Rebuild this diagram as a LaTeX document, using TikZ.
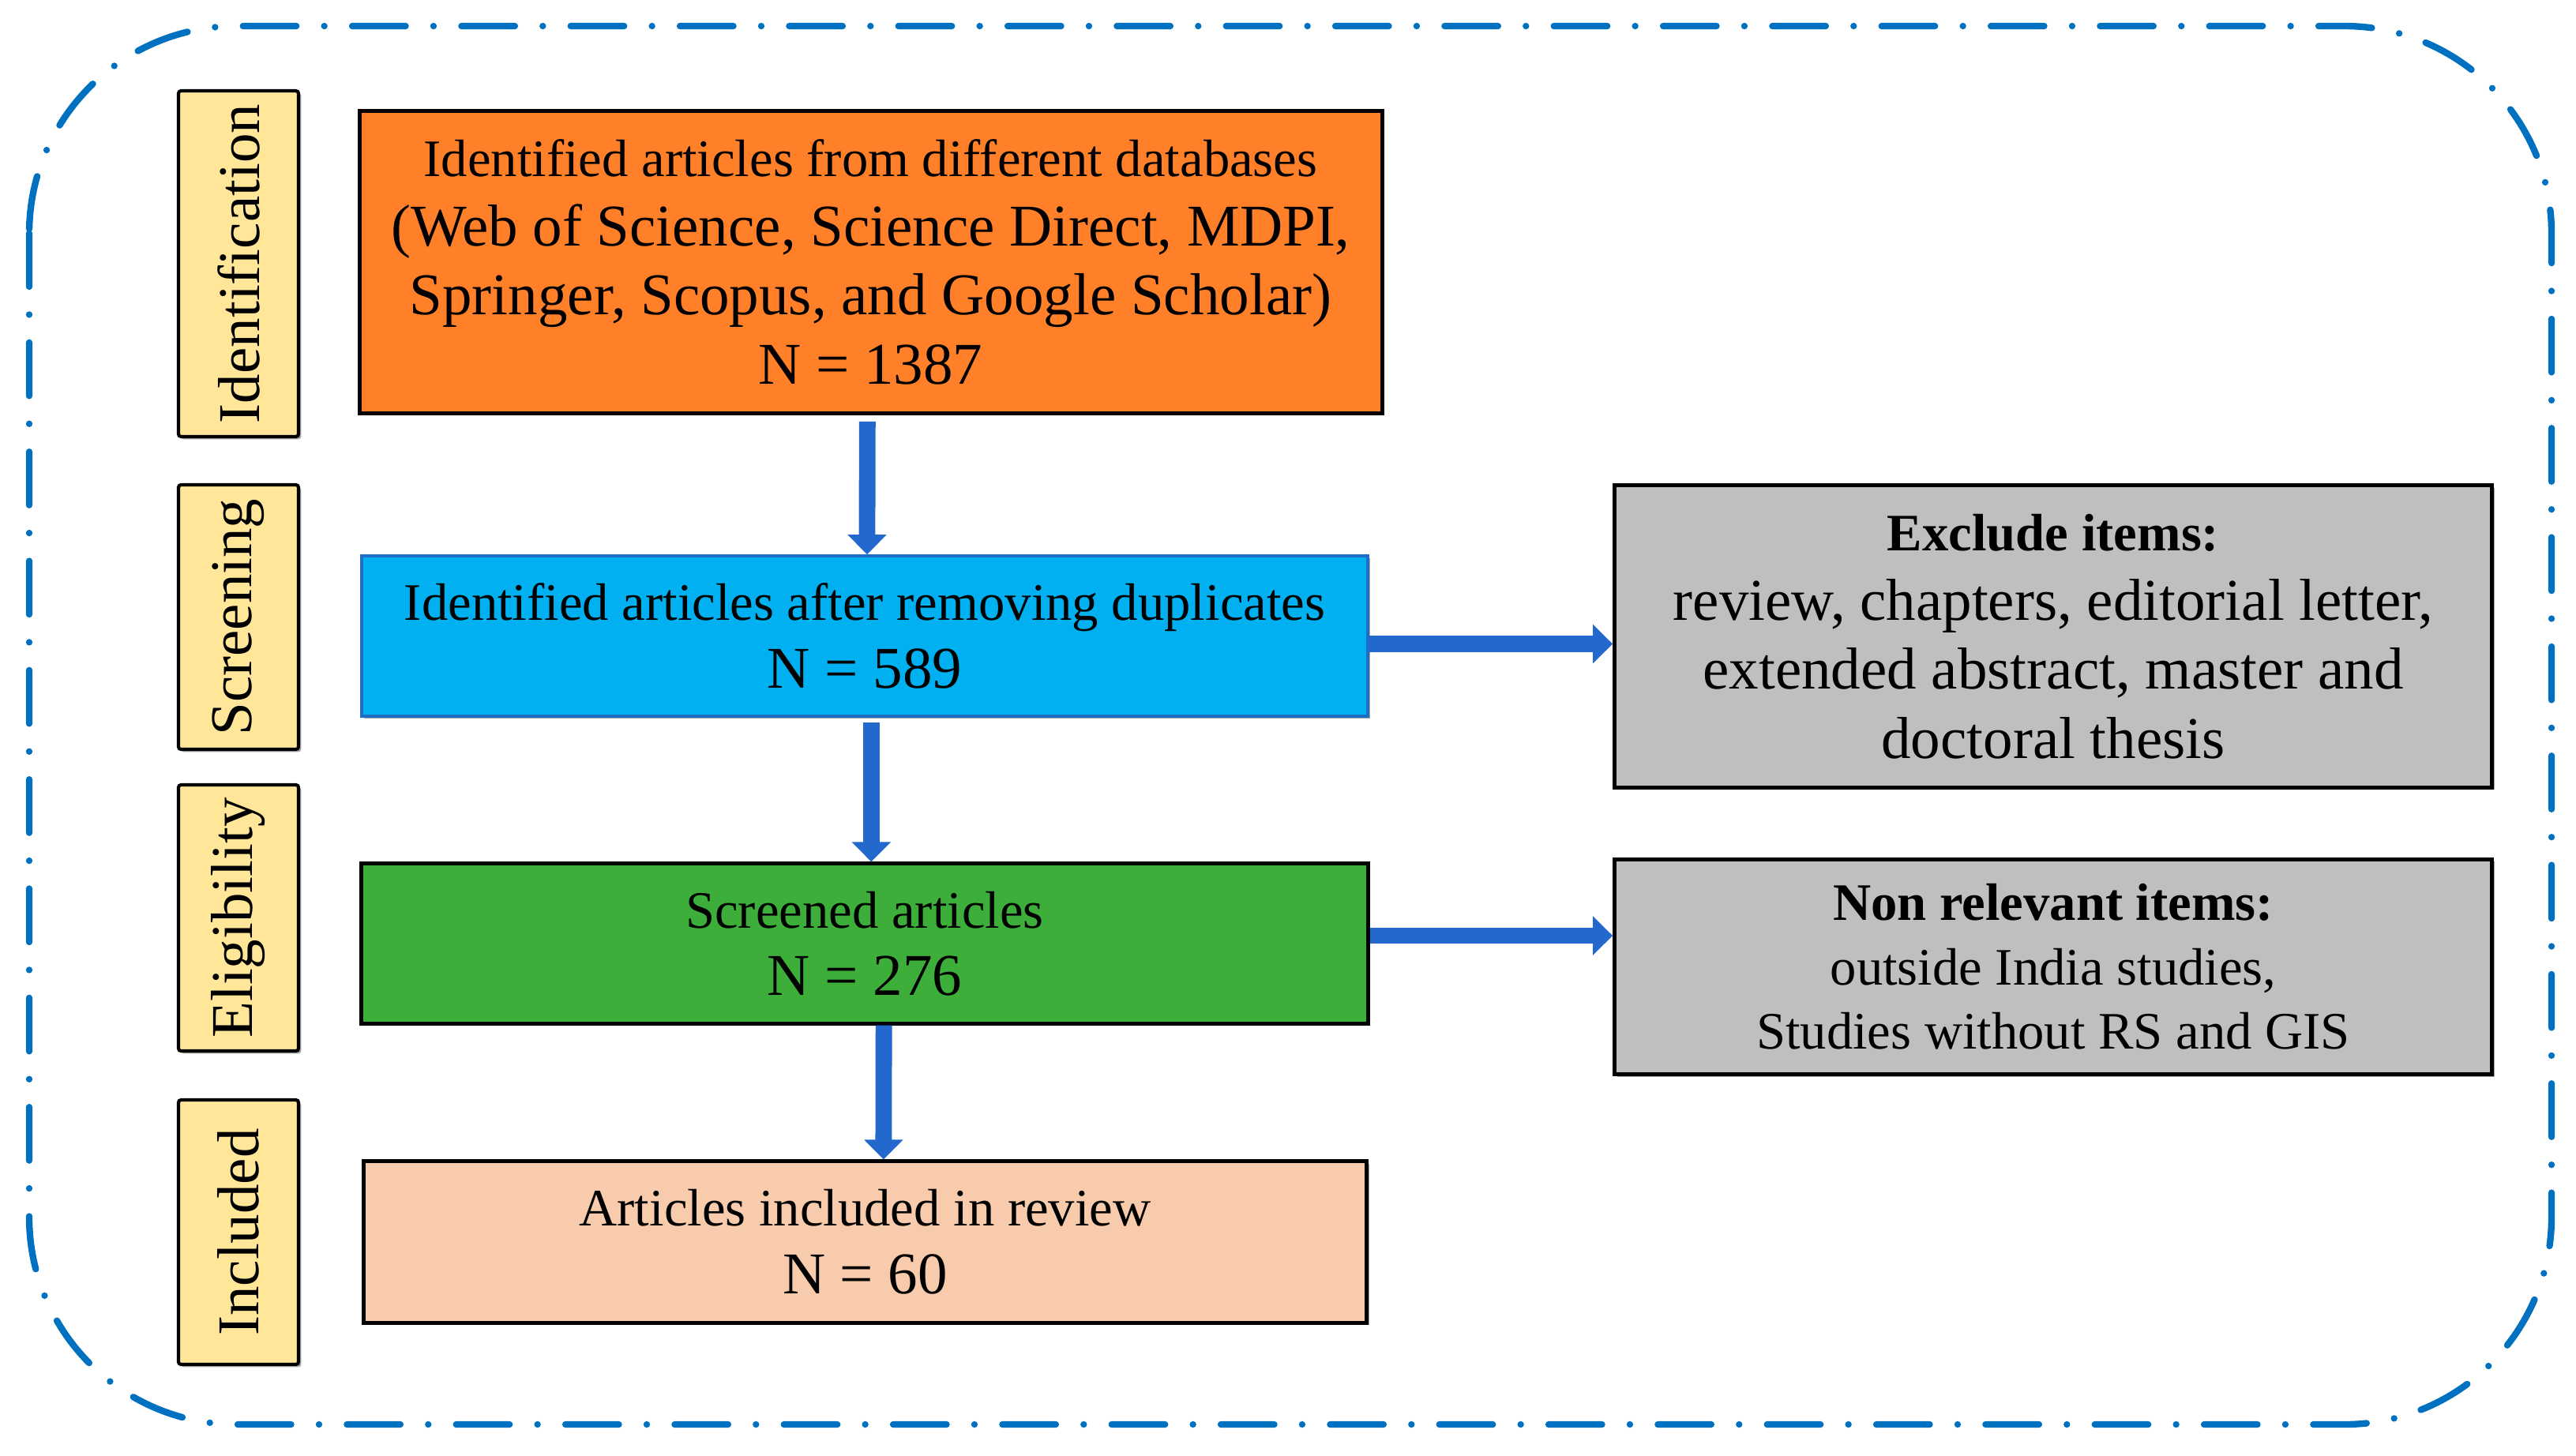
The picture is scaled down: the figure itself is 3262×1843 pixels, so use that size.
\documentclass[tikz,border=0pt]{standalone}
\usepackage{fontspec}
\setmainfont{Liberation Serif}
\usetikzlibrary{arrows.meta,shadows,calc}
\definecolor{frameblue}{RGB}{0,112,192}
\definecolor{orangebox}{RGB}{255,128,40}
\definecolor{bluebox}{RGB}{0,176,240}
\definecolor{blueedge}{RGB}{30,110,200}
\definecolor{greenbox}{RGB}{61,174,58}
\definecolor{peachbox}{RGB}{248,203,173}
\definecolor{greybox}{RGB}{191,191,191}
\definecolor{yellowbox}{RGB}{255,230,153}
\definecolor{arrowblue}{RGB}{35,105,205}
\newcommand\fsA{\fontsize{16}{20.4}\selectfont}
\newcommand\fsB{\fontsize{18}{21}\selectfont}
\tikzset{
  shad/.style={drop shadow={shadow xshift=0.8pt,shadow yshift=-0.8pt,opacity=0.35,fill=black}},
  stagebox/.style={draw=black,line width=1pt,fill=yellowbox,rounded corners=0.8pt,rotate=90,
    minimum height=36.5pt,inner sep=0pt,font=\fsB,shad},
  mainbox/.style={draw=black,line width=1.2pt,align=center,inner sep=0pt,shad},
  greyb/.style={mainbox,fill=greybox,minimum width=266.6pt},
  arr/.style={draw=arrowblue,line width=5pt,-{Triangle[width=11.5pt,length=6pt]}},
  framestyle/.style={draw=frameblue,line width=2pt,line cap=round,
    dash pattern=on 16.2pt off 8.5pt on 0pt off 8.5pt,rounded corners=63pt}
}
\begin{document}
\begin{tikzpicture}[x=0.24pt,y=-0.24pt]
\useasboundingbox (0,0) rectangle (3262,1843);
\draw[framestyle] (37,33) rectangle (3231,1804);

% stage labels
\node[stagebox,minimum width=105.1pt] (sid) at (302,334) {Identification};
\node[stagebox,minimum width=80.4pt] (ssc) at (302,781.5) {Screening};
\node[stagebox,minimum width=80.9pt] (sel) at (302,1162.5) {Eligibility};
\node[stagebox,minimum width=80.4pt] (sin) at (302,1560.5) {Included};

% main boxes
\node[mainbox,fill=orangebox,minimum width=310.8pt,minimum height=91.7pt,font=\fsB] (ob) at (1102.5,332)
  {{\fsA Identified articles from different databases}\\
   (Web of Science, Science Direct, MDPI,\\
   Springer, Scopus, and Google Scholar)\\
   N = 1387};
\node[mainbox,draw=blueedge,line width=0.9pt,fill=bluebox,minimum width=305.8pt,minimum height=48.7pt,font=\fontsize{18}{20.6}\selectfont] (bb) at (1095,805.5)
  {{\fsA Identified articles after removing duplicates}\\ N = 589};
\node[mainbox,fill=greenbox,minimum width=305.8pt,minimum height=48.5pt,font=\fontsize{18}{20.4}\selectfont] (gb) at (1095,1195)
  {{\fsA Screened articles}\\ N = 276};
\node[mainbox,fill=peachbox,minimum width=305pt,minimum height=49pt,font=\fontsize{18}{20.6}\selectfont] (pb) at (1095.5,1573)
  {{\fsA Articles included in review}\\ N = 60};

% exclusion boxes
\node[greyb,minimum height=91.7pt,font=\fontsize{18}{21}\selectfont] (x1) at (2600,806)
  {{\fsA\bfseries Exclude items:}\\
   review, chapters, editorial letter,\\
   extended abstract, master and\\
   doctoral thesis};
\node[greyb,minimum height=65.5pt,font=\fontsize{16}{19.6}\selectfont] (x2) at (2600,1224.5)
  {{\bfseries Non relevant items:}\\
   outside India studies,\\
   Studies without RS and GIS};

% connectors
\draw[arr] ([xshift=-1pt,yshift=-2pt]ob.south) -- ([xshift=0.7pt]bb.north);
\draw[arr] ([xshift=2pt,yshift=-1.5pt]bb.south) -- ([xshift=2pt]gb.north);
\draw[arr] ([xshift=5.8pt]gb.south) -- ([xshift=5.6pt]pb.north);
\draw[arr] ([yshift=-2.4pt]bb.east) -- ([yshift=-2.4pt]bb.east -| x1.west);
\draw[arr] ([yshift=2.4pt]gb.east) -- ([yshift=2.4pt]gb.east -| x2.west);
\end{tikzpicture}
\end{document}
